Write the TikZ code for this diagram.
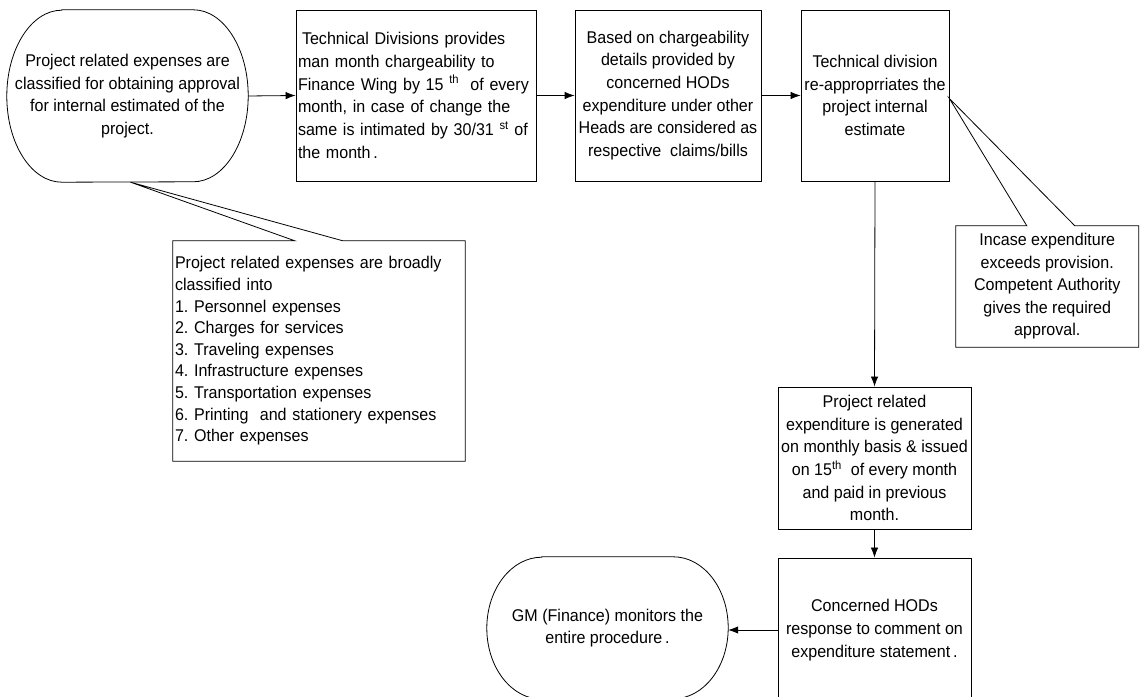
\documentclass[tikz,border=0pt]{standalone}
\usepackage{fontspec}
\setmainfont[FakeStretch=0.945]{Liberation Sans}
\usetikzlibrary{arrows.meta,calc}
\begin{document}
\frenchspacing
\begin{tikzpicture}[x=1pt,y=1pt,
  every node/.style={font=\fontsize{17}{22.7}\selectfont, inner sep=0pt},
  line/.style={line width=0.8pt, black},
  box/.style={draw, line width=0.8pt, align=center},
  term/.style={align=center},
  callbox/.style={font=\fontsize{17}{22.5}\selectfont},
  arr/.style={line width=0.8pt, -{Latex[length=10pt,width=7.5pt]}}
]
\useasboundingbox (0,0) rectangle (1140,696);
\clip (0,0) rectangle (1140,696);

% top row
\node[term, minimum width=241pt, minimum height=172pt] (n1) at (127.5,600)
  {Project related expenses are\\classified for obtaining approval\\for internal estimated of the\\project.};
\draw[line] ($(n1.north west)+(55,0)$) -- ($(n1.north east)+(-55,0)$)
  arc[start angle=90,end angle=-90,x radius=55,y radius=86]
  -- ($(n1.south west)+(55,0)$)
  arc[start angle=270,end angle=90,x radius=55,y radius=86] -- cycle;

\node[box, minimum width=240pt, minimum height=171pt, text width=236pt, align=left] (n2) at (416,600.5)
  {\hspace*{4pt}Technical Divisions provides\\man month chargeability to\\Finance Wing by 15 \textsuperscript{th}\ \ of every\\month, in case of change the\\same is intimated by 30/31 \textsuperscript{st} of\\the month\,.};

\node[box, minimum width=186pt, minimum height=171pt] (n3) at (668,600.5)
  {Based on chargeability\\details provided by\\concerned HODs\\expenditure under other\\Heads are considered as\\respective\ \ claims/bills};

\node[box, minimum width=148pt, minimum height=171pt] (n4) at (875,600.5)
  {Technical division\\re-approprriates the\\project internal\\estimate};

% right column
\node[box, minimum width=193pt, minimum height=142pt] (n5) at (874.5,238)
  {Project related\\expenditure is generated\\on monthly basis \& issued\\on 15\textsuperscript{th}\ \ of every month\\and paid in previous\\month.};

\node[box, minimum width=193pt, minimum height=144pt] (n6) at (874.5,66)
  {Concerned HODs\\response to comment on\\expenditure statement\,.};

% GM terminator
\node[term, minimum width=241pt, minimum height=142pt] (gm) at (607.5,68)
  {GM (Finance) monitors the\\entire procedure\,.};
\draw[line] ($(gm.north west)+(55,0)$) -- ($(gm.north east)+(-55,0)$)
  arc[start angle=90,end angle=-90,x radius=55,y radius=71]
  -- ($(gm.south west)+(55,0)$)
  arc[start angle=270,end angle=90,x radius=55,y radius=71] -- cycle;

% callout 1
\node[callbox, font=\fontsize{17}{21.6}\selectfont, minimum width=292pt, minimum height=220pt, text width=288pt, align=left] (c1) at (319,345)
  {Project related expenses are broadly\\classified into\\1. Personnel expenses\\2. Charges for services\\3. Traveling expenses\\4. Infrastructure expenses\\5. Transportation expenses\\6. Printing\ \ and stationery expenses\\7. Other expenses};
\coordinate (c1apex) at ($(n1.south)+(3,0)$);
\draw[line] ($(c1.north west)+(122,0)$) -- (c1apex) -- ($(c1.north west)+(170,0)$)
  -- (c1.north east) -- (c1.south east) -- (c1.south west) -- (c1.north west) -- cycle;

% callout 2
\node[callbox, minimum width=182.5pt, minimum height=121pt, align=center] (c2) at (1047.25,409.5)
  {Incase expenditure\\exceeds provision.\\Competent Authority\\gives the required\\approval.};
\coordinate (c2apex) at ($(n4.east)+(0,-3)$);
\draw[line] ($(c2.north west)+(71,0)$) -- (c2apex) -- ($(c2.north west)+(119,0)$)
  -- (c2.north east) -- (c2.south east) -- (c2.south west) -- (c2.north west) -- cycle;

% connectors
\draw[arr] (n1.east) -- (n2.west);
\draw[arr] (n2.east) -- (n3.west);
\draw[arr] (n3.east) -- (n4.west);
\draw[arr] (n4.south) -- (n5.north);
\draw[arr] (n5.south) -- (n6.north);
\draw[arr] (n6.west) -- (n6.west -| gm.east);
\end{tikzpicture}
\end{document}
